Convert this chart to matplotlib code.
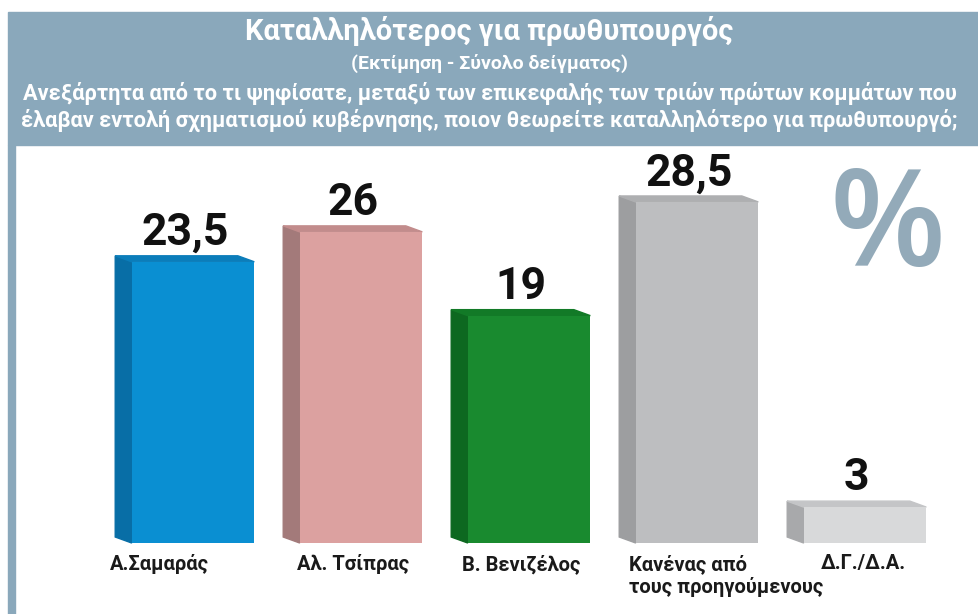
import matplotlib
matplotlib.use('Agg')
import matplotlib.pyplot as plt
from matplotlib.patches import Rectangle, Polygon

# data
categories = ['Α.Σαμαράς', 'Αλ. Τσίπρας', 'Β. Βενιζέλος',
              'Κανένας από\nτους προηγούμενους', 'Δ.Γ./Δ.Α.']
values = [23.5, 26, 19, 28.5, 3]
value_labels = ['23,5', '26', '19', '28,5', '3']

title = 'Καταλληλότερος για πρωθυπουργός'
subtitle = '(Εκτίμηση - Σύνολο δείγματος)'
question = ('Ανεξάρτητα από το τι ψηφίσατε, μεταξύ των επικεφαλής των τριών πρώτων κομμάτων που\n'
            'έλαβαν εντολή σχηματισμού κυβέρνησης, ποιον θεωρείτε καταλληλότερο για πρωθυπουργό;')

front_colors = ['#0a8fd2', '#dca1a0', '#198a2f', '#bdbec0', '#d8d9da']
side_colors = ['#086ea6', '#a37a7a', '#0d6820', '#9d9ea0', '#a8a9ab']
top_colors = ['#0b7dba', '#c28c8c', '#127a27', '#aeafb1', '#c4c5c7']

header_col = '#8aa8bb'
fam = ['Roboto', 'DejaVu Sans']

W, H = 979, 614
fig = plt.figure(figsize=(W / 100, H / 100), dpi=100)
fig.patch.set_facecolor('white')


def fx(px):
    return px / W


def fy(py):
    return 1 - py / H


# header band and left frame line
fig.add_artist(Rectangle((fx(8), fy(145)), 1 - fx(8), (145 - 12) / H,
                         transform=fig.transFigure, color=header_col, zorder=0))
fig.add_artist(Rectangle((fx(8), 0), 7 / W, fy(145),
                         transform=fig.transFigure, color=header_col, zorder=0))

fig.text(0.5, fy(31), title, color='white', fontsize=21, fontweight='bold',
         family=fam, ha='center', va='center')
fig.text(0.5, fy(63), subtitle, color='white', fontsize=14, fontweight='bold',
         family=fam, ha='center', va='center')
fig.text(0.5, fy(107), question, color='white', fontsize=15.7, fontweight='bold',
         family=fam, ha='center', va='center', linespacing=1.2)

fig.text(fx(888), fy(231), '%', color='#93aab9', fontsize=97, fontweight='semibold',
         family=['Open Sans', 'DejaVu Sans'], ha='center', va='center')

# axes: category i sits at ~193 + 168*i px, value 0 at y=543 px, 11.97 px per unit
ax = fig.add_axes([fx(109), fy(543), (949 - 109) / W, 359 / H])
ax.set_xlim(-0.5, 4.5)
ax.set_ylim(0, 30)
ax.axis('off')

width = 0.73
dx = -0.098   # depth offset, data units (~16 px left)
dy = 0.5      # depth offset, data units (~6 px up)
xs = list(range(len(values)))
bars = ax.bar(xs, values, width, color=front_colors, zorder=3, clip_on=False)

label_shift = [-0.15, 0, 0, 0.06, 0.04]   # small nudges of the category labels
label_ha = ['center', 'center', 'center', 'left', 'center']

for i, b in enumerate(bars):
    x0 = b.get_x()
    x1 = x0 + b.get_width()
    h = b.get_height()
    ax.add_patch(Polygon([(x0, 0), (x0, h), (x0 + dx, h + dy), (x0 + dx, dy)],
                         closed=True, color=side_colors[i], zorder=2, clip_on=False))
    ax.add_patch(Polygon([(x0, h), (x1, h), (x1 + dx, h + dy), (x0 + dx, h + dy)],
                         closed=True, color=top_colors[i], zorder=2, clip_on=False))
    cx = b.get_x() + b.get_width() / 2 + dx / 2
    ax.text(cx, h + 1.4, value_labels[i], ha='center', va='baseline',
            fontsize=32, fontweight='bold', family=fam, color='#111111')
    if label_ha[i] == 'center':
        lx = cx + label_shift[i]
    else:
        lx = x0 + dx + label_shift[i]
    ax.text(lx, -0.95, categories[i], ha=label_ha[i], va='top',
            fontsize=14.5, fontweight='bold', family=fam, color='#1a1a1a',
            linespacing=1.2)

fig.savefig('out.png', dpi=100)
